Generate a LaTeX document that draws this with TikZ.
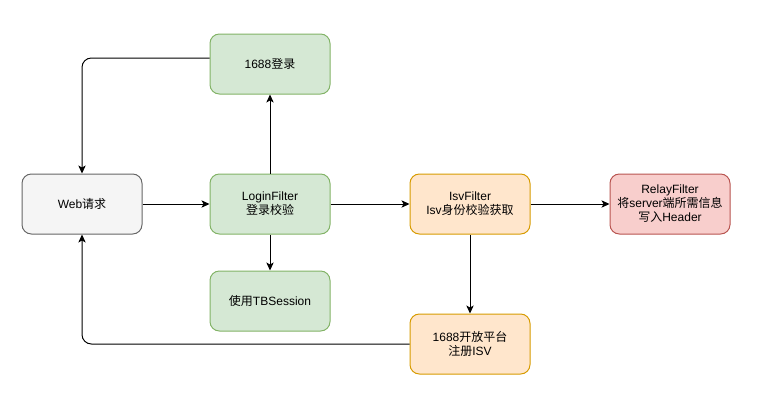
\documentclass[tikz,border=0pt]{standalone}
\usepackage{fontspec}
\setmainfont{Liberation Sans}
\newfontfamily\cjk{Noto Sans CJK SC}
\newcommand{\zh}[1]{{\cjk #1}}
\usetikzlibrary{arrows.meta}
\definecolor{boxGreen}{HTML}{D5E8D4}
\definecolor{lineGreen}{HTML}{82B366}
\definecolor{boxOrange}{HTML}{FFE6CC}
\definecolor{lineOrange}{HTML}{D79B00}
\definecolor{boxRed}{HTML}{F8CECC}
\definecolor{lineRed}{HTML}{B85450}
\definecolor{boxGray}{HTML}{F5F5F5}
\definecolor{lineGray}{HTML}{666666}

\begin{document}
\begin{tikzpicture}[x=0.75pt,y=-0.75pt,
    >={Stealth[length=6pt,width=5.5pt,inset=1.5pt]},
    box/.style={draw,line width=0.75pt,rounded corners=7pt,
      minimum width=90pt,minimum height=45pt,align=center,
      font=\fontsize{9}{10.5}\selectfont},
    greenbox/.style={box,fill=boxGreen,draw=lineGreen},
    orangebox/.style={box,fill=boxOrange,draw=lineOrange},
    redbox/.style={box,fill=boxRed,draw=lineRed},
    graybox/.style={box,fill=boxGray,draw=lineGray},
    flow/.style={->,line width=0.75pt,rounded corners=7pt}]
  \useasboundingbox (0,0) rectangle (768,407);
  % nodes
  \node[graybox]   (web)    at (82,204)  {Web\zh{请求}};
  \node[greenbox]  (login)  at (270,64)  {1688\zh{登录}};
  \node[greenbox]  (lfilt)  at (270,204) {LoginFilter\\\zh{登录校验}};
  \node[greenbox]  (tbs)    at (270,301) {\zh{使用}TBSession};
  \node[orangebox] (isv)    at (470,204) {IsvFilter\\Isv\zh{身份校验获取}};
  \node[redbox]    (relay)  at (670,204) {RelayFilter\\\zh{将}server\zh{端所需信息}\\\zh{写入}Header};
  \node[orangebox] (open)   at (470,344) {1688\zh{开放平台}\\\zh{注册}ISV};
  % connectors
  \draw[flow] (web) -- (lfilt);
  \draw[flow] (lfilt) -- (login);
  \draw[flow] (lfilt) -- (tbs);
  \draw[flow] (lfilt) -- (isv);
  \draw[flow] (isv) -- (relay);
  \draw[flow] (isv) -- (open);
  \draw[flow] ([yshift=4.5pt]login.west) -| (web.north);
  \draw[flow] (open.west) -| (web.south);
\end{tikzpicture}
\end{document}
